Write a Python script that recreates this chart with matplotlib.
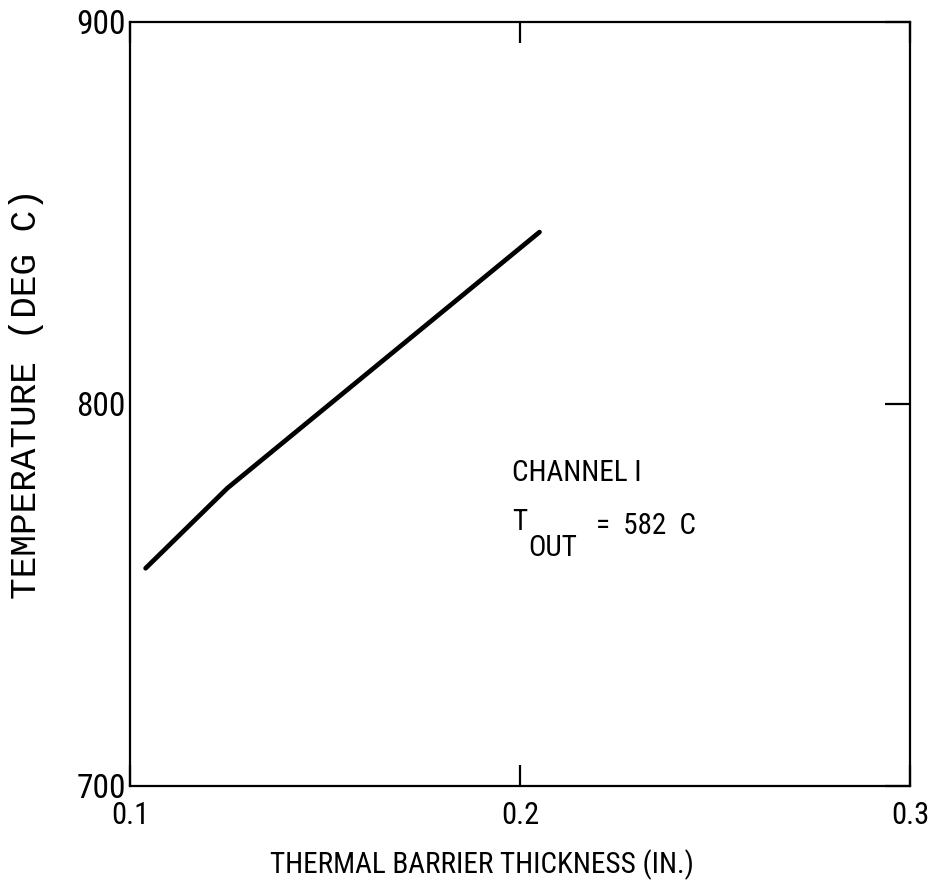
import matplotlib
matplotlib.use("Agg")
import matplotlib.pyplot as plt
from matplotlib import font_manager

names = {f.name for f in font_manager.fontManager.ttflist}
FONT = "DejaVu Sans"
for cand in ["Roboto Condensed", "Archivo Narrow", "PT Sans Narrow", "Barlow Semi Condensed"]:
    if cand in names:
        FONT = cand
        break
MONO = "Liberation Mono" if "Liberation Mono" in names else "DejaVu Sans Mono"
plt.rcParams['font.family'] = [FONT, "DejaVu Sans"]

# data
thickness = [0.104, 0.125, 0.205]
temperature = [757, 778, 845]
x_ticks = [0.1, 0.2, 0.3]
x_ticklabels = ["0.1", "0.2", "0.3"]
y_ticks = [700, 800, 900]
y_ticklabels = ["700", "800", "900"]

fig = plt.figure(figsize=(9.45, 8.85), dpi=100)
ax = fig.add_axes([130/945, 1-786/885, 780/945, 764/885])
ax.plot(thickness, temperature, color="black", lw=3.4, solid_capstyle="round")
ax.set_xlim(0.1, 0.3)
ax.set_ylim(700, 900)
ax.set_xticks(x_ticks)
ax.set_xticklabels(x_ticklabels, fontsize=22)
ax.set_yticks(y_ticks)
ax.set_yticklabels(y_ticklabels, fontsize=24)
for s in ax.spines.values():
    s.set_linewidth(1.6)
ax.tick_params(axis='x', direction='in', length=15, width=1.6, top=True, pad=11)
ax.tick_params(axis='y', direction='in', length=0, width=1.6, pad=3)
ax.tick_params(axis='y', which='major', right=True)
for t in ax.yaxis.get_major_ticks():
    t.tick2line.set_markersize(18)
    t.tick2line.set_markeredgewidth(1.6)
ax.set_xlabel("THERMAL BARRIER THICKNESS (IN.)", fontsize=21, labelpad=16)
ax.xaxis.set_label_coords((482 - 130) / 780, -(865 - 786) / 764)
ax.xaxis.label.set_va("center")
ax.set_ylabel("TEMPERATURE (DEG C)", fontsize=26, family=[MONO, "DejaVu Sans"])
ax.yaxis.set_label_coords(-(130 - 27) / 780, (786 - 394) / 764)
ax.yaxis.label.set_va("center")

ax.text(0.49, 0.41, "CHANNEL I", transform=ax.transAxes, fontsize=21, va="center", ha="left")
ax.text(0.49, 0.345, "T", transform=ax.transAxes, fontsize=21, va="center", ha="left")
ax.text(0.51, 0.312, "OUT", transform=ax.transAxes, fontsize=21, va="center", ha="left")
ax.text(0.597, 0.340, "=  582  C", transform=ax.transAxes, fontsize=21, va="center", ha="left")

fig.savefig("out.png", dpi=100)
